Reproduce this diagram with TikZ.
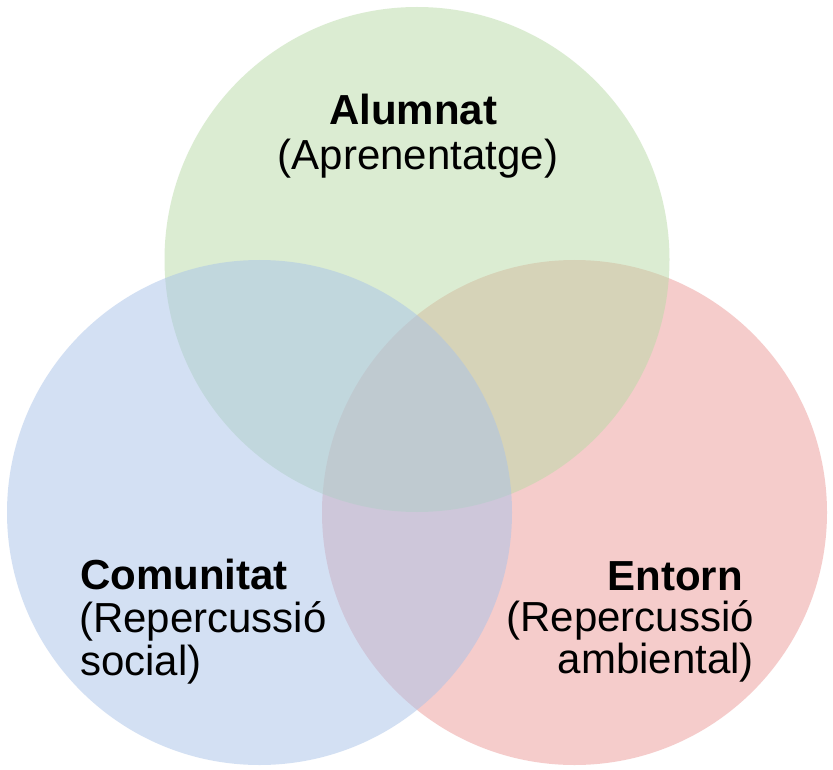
\documentclass[tikz,border=0pt]{standalone}
\usepackage{fontspec}
\setmainfont{Liberation Sans}
\definecolor{cgreen}{RGB}{185,219,167}
\definecolor{cblue}{RGB}{169,195,233}
\definecolor{cred}{RGB}{237,155,153}
\tikzset{
  setcircle/.style={fill opacity=0.5, draw=none},
  lbl/.style={inner sep=0pt, font=\fontsize{42}{46}\selectfont, text=black},
  title/.style={lbl, font=\fontsize{42}{46}\selectfont\bfseries}
}
\begin{document}
\begin{tikzpicture}[x=1pt,y=-1pt]
\useasboundingbox (0,0) rectangle (833,770);
\fill[white] (0,0) rectangle (833,770);
\fill[cred, setcircle] (574.5,512.5) circle[radius=252.5];
\fill[cgreen, setcircle] (417,259.5) circle[radius=252.5];
\fill[cblue, setcircle] (259.5,512.5) circle[radius=252.5];
\node[title, anchor=base] (alumnat) at (413,125) {Alumnat};
\node[lbl, anchor=base] (aprenentatge) at (418,170) {(Aprenentatge)};
\node[title, anchor=base west] (comunitat) at (80,589) {Comunitat};
\node[lbl, anchor=base west] (repsoc) at (79,632) {(Repercussió};
\node[lbl, anchor=base west] (social) at (80,675) {social)};
\node[title, anchor=base east] (entorn) at (743,590) {Entorn};
\node[lbl, anchor=base east] (repamb) at (754,631) {(Repercussió};
\node[lbl, anchor=base east] (ambiental) at (754,673) {ambiental)};
\end{tikzpicture}
\end{document}
